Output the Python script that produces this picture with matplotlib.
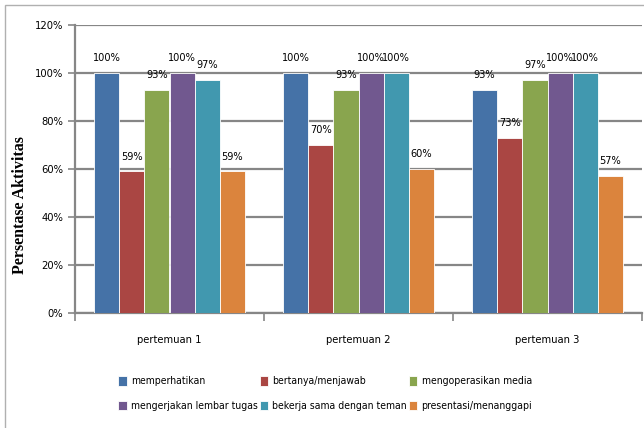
import numpy as np
import matplotlib.pyplot as plt
from matplotlib.patches import Rectangle

plt.rcParams['font.family'] = ['DejaVu Sans']
plt.rcParams['font.stretch'] = 'condensed'

kategori = ['pertemuan 1', 'pertemuan 2', 'pertemuan 3']
seri = ['memperhatikan', 'bertanya/menjawab', 'mengoperasikan media',
        'mengerjakan lembar tugas', 'bekerja sama dengan teman', 'presentasi/menanggapi']
nilai = [
    [100, 100, 93],   # memperhatikan
    [59, 70, 73],     # bertanya/menjawab
    [93, 93, 97],     # mengoperasikan media
    [100, 100, 100],  # mengerjakan lembar tugas
    [97, 100, 100],   # bekerja sama dengan teman
    [59, 60, 57],     # presentasi/menanggapi
]
warna = ['#4572A7', '#AA4643', '#89A54E', '#71588F', '#4198AF', '#DB843D']
yticks = [0, 20, 40, 60, 80, 100, 120]

fig = plt.figure(figsize=(6.44, 4.28), dpi=100)
ax = fig.add_axes([75/644, 1-313/428, 567/644, (313-25)/428])

x = np.arange(len(kategori))
w = 0.8 / len(seri)
handles = []
for i in range(len(seri)):
    pos = x - 0.4 + w*(i+0.5)
    bars = ax.bar(pos, nilai[i], width=w, color=warna[i], edgecolor='white',
                  linewidth=0.6, label=seri[i], zorder=3)
    handles.append(bars)
    for b, v in zip(bars, nilai[i]):
        ax.annotate('{}%'.format(v), (b.get_x()+b.get_width()/2, v),
                    xytext=(0, 7), textcoords='offset points',
                    ha='center', va='bottom', fontsize=7.8)

ax.set_xlim(-0.5, 2.5)
ax.set_ylim(0, 120)
ax.set_yticks(yticks)
ax.set_yticklabels(['{}%'.format(t) for t in yticks], fontsize=8)
ax.yaxis.grid(True, color='#868686', linewidth=1.6, zorder=0)
ax.set_xticks(x)
ax.set_xticklabels(kategori, fontsize=8)
ax.tick_params(axis='x', length=0, pad=16)
ax.set_xticks([-0.5, 0.5, 1.5, 2.5], minor=True)
ax.tick_params(axis='x', which='minor', length=6, width=1.2, color='#868686')
ax.tick_params(axis='y', length=5, width=1.2, color='#868686')
for s in ['top', 'right']:
    ax.spines[s].set_visible(False)
ax.spines['left'].set_color('#868686')
ax.spines['left'].set_linewidth(1.6)
ax.spines['bottom'].set_color('#868686')
ax.spines['bottom'].set_linewidth(1.6)

fig.text(20/644, 1-205/428, 'Persentase Aktivitas', rotation=90, ha='center', va='center',
         fontsize=11.5, fontweight='bold', family='Liberation Serif', stretch='normal')

# urutan legenda per baris
urut = [0, 3, 1, 4, 2, 5]
fig.legend([handles[k] for k in urut], [seri[k] for k in urut],
           loc='center left', bbox_to_anchor=(109/644, 1-393.5/428), ncol=3, frameon=False,
           fontsize=7.5, handlelength=0.8, handleheight=1.0, handletextpad=0.4,
           columnspacing=0.2, labelspacing=1.35)

fig.patches.append(Rectangle((5/644, -0.1), 1.1, (1-5/428)+0.1, transform=fig.transFigure,
                             fill=False, edgecolor='#b0b0b0', linewidth=1.0))

fig.savefig('out.png', dpi=100)
